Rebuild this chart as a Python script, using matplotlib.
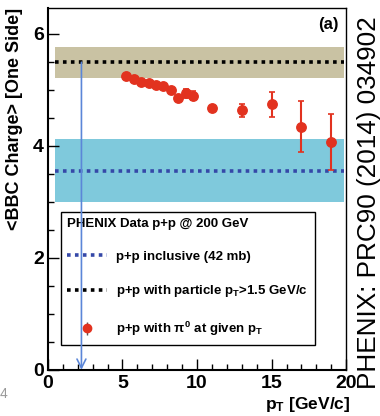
import numpy as np
import matplotlib
matplotlib.use("Agg")
import matplotlib.pyplot as plt
from matplotlib.lines import Line2D
from matplotlib.ticker import MultipleLocator

plt.rcParams['font.family'] = ['Liberation Sans', 'DejaVu Sans']
plt.rcParams['mathtext.fontset'] = 'custom'
plt.rcParams['mathtext.rm'] = 'Liberation Sans:bold'
plt.rcParams['mathtext.it'] = 'Liberation Sans:bold'
plt.rcParams['mathtext.bf'] = 'Liberation Sans:bold'

# pi0 data points: pT, <BBC charge>, error
pt = np.array([5.25, 5.75, 6.25, 6.75, 7.25, 7.75, 8.25, 8.75, 9.25, 9.75,
               11.0, 13.0, 15.0, 17.0, 19.0])
charge = np.array([5.24, 5.19, 5.14, 5.12, 5.08, 5.07, 4.99, 4.86, 4.94, 4.89,
                   4.67, 4.63, 4.74, 4.34, 4.07])
err = np.array([0.0, 0.0, 0.0, 0.0, 0.0, 0.0, 0.0, 0.0, 0.08, 0.08,
                0.0, 0.11, 0.22, 0.45, 0.5])

# reference levels (mean, band low, band high)
incl_mean, incl_lo, incl_hi = 3.54, 3.0, 4.12
trig_mean, trig_lo, trig_hi = 5.49, 5.21, 5.76
band_x = [0.45, 19.85]
arrow_pt = 2.25

red = '#e2321f'
blue_dot = '#3548a8'
tan = '#c9c2a3'
cyan = '#7fc9dc'

fig = plt.figure(figsize=(3.8, 4.16), dpi=100)
ax = fig.add_axes([0.126, 0.111, 0.785, 0.870])

ax.fill_between(band_x, incl_lo, incl_hi, color=cyan, lw=0, zorder=1)
ax.fill_between(band_x, trig_lo, trig_hi, color=tan, lw=0, zorder=1)
ax.plot(band_x, [incl_mean] * 2, color=blue_dot, lw=2.6, ls=(0, (1, 1.2)), zorder=2)
ax.plot(band_x, [trig_mean] * 2, color='black', lw=2.6, ls=(0, (1, 1.2)), zorder=2)

ax.errorbar(pt, charge, yerr=err, fmt='o', color=red, ms=6.8, capsize=2.5,
            elinewidth=1.5, capthick=1.2, zorder=4)

ax.annotate('', xy=(arrow_pt, 0.0), xytext=(arrow_pt, trig_mean),
            arrowprops=dict(arrowstyle='->', color='#5b86d8', lw=1.2,
                            mutation_scale=16, shrinkA=0, shrinkB=0),
            zorder=7)

ax.set_xlim(0, 20)
ax.set_ylim(0, 6.46)
ax.xaxis.set_major_locator(MultipleLocator(5))
ax.xaxis.set_minor_locator(MultipleLocator(1))
ax.yaxis.set_major_locator(MultipleLocator(2))
ax.yaxis.set_minor_locator(MultipleLocator(0.5))
ax.tick_params(which='both', direction='in', top=False, right=False)
ax.tick_params(which='major', length=8, width=1, labelsize=14, pad=3)
ax.tick_params(axis='x', which='major', pad=4)
ax.tick_params(which='minor', length=4, width=1)
for lab in ax.get_xticklabels() + ax.get_yticklabels():
    lab.set_fontweight('bold')
for s in ax.spines.values():
    s.set_linewidth(1.0)
ax.spines['bottom'].set_linewidth(1.5)
ax.spines['left'].set_linewidth(1.5)

handles = [
    Line2D([], [], color=blue_dot, lw=2.6, ls=(0, (1, 1.2))),
    Line2D([], [], color='black', lw=2.6, ls=(0, (1, 1.2))),
    ax.errorbar([], [], yerr=[], fmt='o', color=red, ms=6, ecolor='#555555',
                elinewidth=1.0),
]
labels = ['p+p inclusive (42 mb)',
          r'p+p with particle p$_\mathrm{T}$>1.5 GeV/c',
          r'p+p with $\pi^0$ at given p$_\mathrm{T}$']
leg = ax.legend(handles, labels, title='PHENIX Data p+p @ 200 GeV',
                loc='upper left', bbox_to_anchor=(0.043, 0.437),
                fancybox=False, edgecolor='black', framealpha=1,
                prop=dict(weight='bold', size=9.5),
                title_fontproperties=dict(weight='bold', size=9.5),
                alignment='left', handlelength=3.0, labelspacing=1.55,
                borderpad=0.5, handletextpad=0.7, borderaxespad=0)
leg.get_frame().set_linewidth(1.0)
leg.set_zorder(5)

ax.text(0.975, 0.975, '(a)', transform=ax.transAxes, ha='right', va='top',
        fontsize=12, fontweight='bold')

fig.text(0.038, 0.982, '<BBC Charge> [One Side]', rotation=90, ha='center',
         va='top', fontsize=13, fontweight='bold')
fig.text(0.922, 0.006, r'p$_\mathrm{T}$ [GeV/c]', ha='right', va='bottom',
         fontsize=12.5, fontweight='bold')
fig.text(0.972, 0.512, 'PHENIX: PRC90 (2014) 034902', rotation=90, ha='center',
         va='center', fontsize=18.8)
fig.text(0.0, 0.035, '4', ha='left', va='bottom', fontsize=10, color='#999999')

fig.savefig('out.png', dpi=100)
